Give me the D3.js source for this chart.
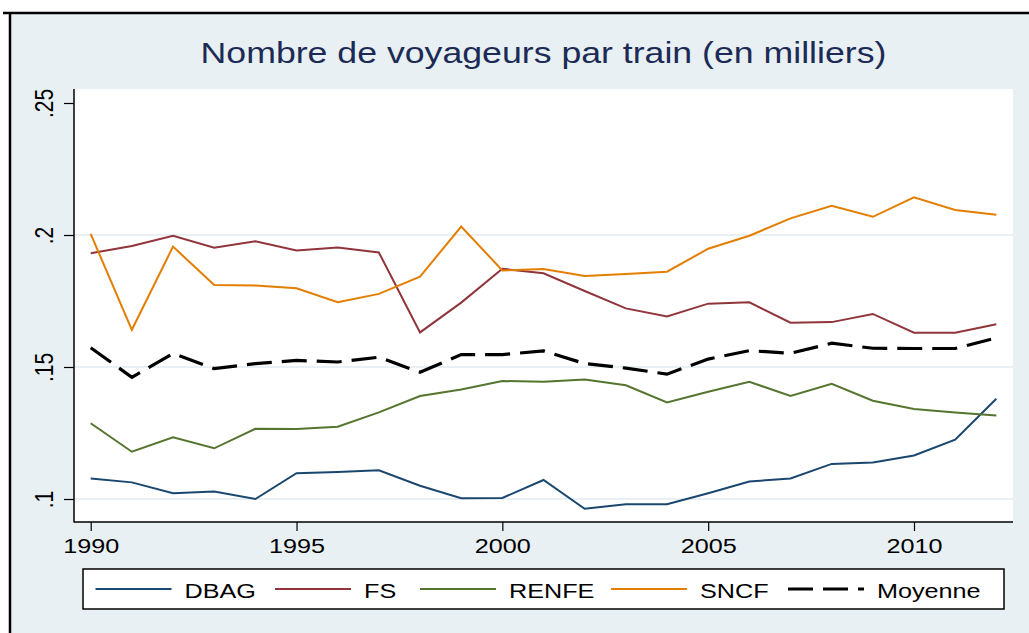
<!DOCTYPE html>
<html>
<head>
<meta charset="utf-8">
<script src="https://cdn.jsdelivr.net/npm/d3@7"></script>
<style>
  body { margin:0; background:#fff; }
  svg text { font-family:"Liberation Sans", Arial, sans-serif; }
</style>
</head>
<body>
<div id="chart"></div>
<script>
// values
var years = d3.range(1990, 2013)
var dbag  = [0.1078,0.1063,0.1022,0.1028,0.1000,0.1098,0.1102,0.1109,0.1050,0.1003,0.1004,
             0.1072,0.0963,0.0980,0.0980,0.1022,0.1066,0.1078,0.1133,0.1138,0.1165,0.1225,0.1380]
var fs    = [0.1931,0.1958,0.1997,0.1952,0.1976,0.1941,0.1953,0.1934,0.1631,0.1744,0.1872,
             0.1855,0.1788,0.1722,0.1691,0.1740,0.1745,0.1668,0.1670,0.1701,0.1630,0.1630,0.1662]
var renfe = [0.1287,0.1179,0.1234,0.1192,0.1266,0.1265,0.1274,0.1328,0.1390,0.1415,0.1447,
             0.1444,0.1453,0.1431,0.1366,0.1406,0.1444,0.1390,0.1436,0.1372,0.1341,0.1328,0.1316]
var sncf  = [0.2004,0.1641,0.1956,0.1811,0.1809,0.1798,0.1745,0.1777,0.1842,0.2032,0.1866,
             0.1871,0.1845,0.1852,0.1861,0.1948,0.1997,0.2063,0.2111,0.2069,0.2143,0.2095,0.2077]
var moyenne = [0.1573,0.1461,0.1551,0.1494,0.1513,0.1525,0.1519,0.1537,0.1480,0.1547,0.1547,
             0.1561,0.1513,0.1496,0.1473,0.1530,0.1562,0.1552,0.1590,0.1571,0.1570,0.1570,0.1610]
var seriesNames = ['DBAG','FS','RENFE','SNCF','Moyenne']
var xTicks = [1990,1995,2000,2005,2010]
var yTicks = [0.1,0.15,0.2,0.25]
var yTickLabels = ['.1','.15','.2','.25']
var title = 'Nombre de voyageurs par train (en milliers)'

var W = 1029, H = 633
var SX = 1.2   // the picture is stretched sideways, so is the text
var bg = '#e8f0f3'

var svg = d3.select('#chart').append('svg')
  .attr('width',W).attr('height',H)

// graph region with the black frame on top and left
svg.append('rect').attr('x',10).attr('y',13)
  .attr('width',W-10).attr('height',H-13).style('fill',bg)
svg.append('line').attr('x1',3).attr('x2',W).attr('y1',13).attr('y2',13)
  .style('stroke','#000').style('stroke-width',2.5)
svg.append('line').attr('x1',10).attr('x2',10).attr('y1',12).attr('y2',H)
  .style('stroke','#000').style('stroke-width',2.5)

// title
svg.append('text')
  .attr('transform','translate(543.5,62.5) scale(1.23,1)')
  .attr('text-anchor','middle')
  .style('font-size','29px').style('fill','#1c2b55')
  .text(title)

// plot region
var pLeft = 74, pRight = 1013, pTop = 89, pBottom = 522
svg.append('rect').attr('x',pLeft).attr('y',pTop)
  .attr('width',pRight-pLeft).attr('height',pBottom-pTop).style('fill','#fff')

var x = d3.scaleLinear().domain([1990,2010]).range([90.7,914])
var y = d3.scaleLinear().domain([0.1,0.25]).range([499,103])

// gridlines
svg.append('g').selectAll('line').data([0.1,0.15,0.2]).enter().append('line')
  .attr('x1',pLeft).attr('x2',pRight)
  .attr('y1',function(d){return y(d)}).attr('y2',function(d){return y(d)})
  .style('stroke',bg).style('stroke-width',2)

// axes
var yAxis = svg.append('g').attr('transform','translate('+pLeft+',0)')
  .call(d3.axisLeft(y).tickValues(yTicks).tickSize(10).tickSizeOuter(0)
    .tickFormat(function(d,i){return yTickLabels[i]}))
yAxis.select('.domain').remove()
yAxis.selectAll('.tick line').style('stroke','#000').style('stroke-width',1.2)
yAxis.selectAll('.tick text')
  .attr('x',null).attr('dy',null).attr('text-anchor','middle')
  .attr('transform','translate(-21,0) rotate(-90) scale(1,'+SX+')')
  .style('font-size','21px').style('fill','#000')

var xAxis = svg.append('g').attr('transform','translate(0,'+pBottom+')')
  .call(d3.axisBottom(x).tickValues(xTicks).tickSize(9).tickSizeOuter(0)
    .tickFormat(d3.format('d')))
xAxis.select('.domain').remove()
xAxis.selectAll('.tick line').style('stroke','#000').style('stroke-width',1.2)
xAxis.selectAll('.tick text')
  .attr('y',31).attr('dy',null)
  .attr('transform','scale('+SX+',1)')
  .style('font-size','21px').style('fill','#000')

svg.append('line').attr('x1',pLeft).attr('x2',pLeft).attr('y1',pTop).attr('y2',pBottom+0.5)
  .style('stroke','#000').style('stroke-width',1.5)
svg.append('line').attr('x1',pLeft).attr('x2',pRight).attr('y1',pBottom).attr('y2',pBottom)
  .style('stroke','#000').style('stroke-width',1.5)

// lines
var series = [
  {name:'DBAG', vals:dbag, clr:'#1a476f', w:2, dash:null},
  {name:'FS', vals:fs, clr:'#90353b', w:2, dash:null},
  {name:'RENFE', vals:renfe, clr:'#55752f', w:2, dash:null},
  {name:'SNCF', vals:sncf, clr:'#e37e00', w:2, dash:null},
  {name:'Moyenne', vals:moyenne, clr:'#000', w:3.2, dash:'25,10'}
]
var line = d3.line()
  .x(function(d,i){return x(years[i])})
  .y(function(d){return y(d)})

svg.append('g').selectAll('path').data(series).enter().append('path')
  .attr('d',function(s){return line(s.vals)})
  .style('fill','none')
  .style('stroke',function(s){return s.clr})
  .style('stroke-width',function(s){return s.w})
  .style('stroke-dasharray',function(s){return s.dash})

// legend
var lg = svg.append('g')
lg.append('rect').attr('x',83).attr('y',569).attr('width',921).attr('height',40)
  .style('fill','#fff').style('stroke','#000').style('stroke-width',1.5)
var keyX = [95.5, 275, 420, 611, 788]
var keys = lg.selectAll('g.key').data(series).enter().append('g')
  .attr('class','key')
  .attr('transform',function(s,i){return 'translate('+keyX[i]+',0)'})
keys.append('line')
  .attr('x1',0).attr('x2',76).attr('y1',589).attr('y2',589)
  .style('stroke',function(s){return s.clr})
  .style('stroke-width',function(s){return s.w})
  .style('stroke-dasharray',function(s){return s.dash})
keys.append('text')
  .attr('transform','translate(89,597.5) scale('+SX+',1)')
  .style('font-size','21px').style('fill','#000')
  .text(function(s,i){return seriesNames[i]})
</script>
</body>
</html>
